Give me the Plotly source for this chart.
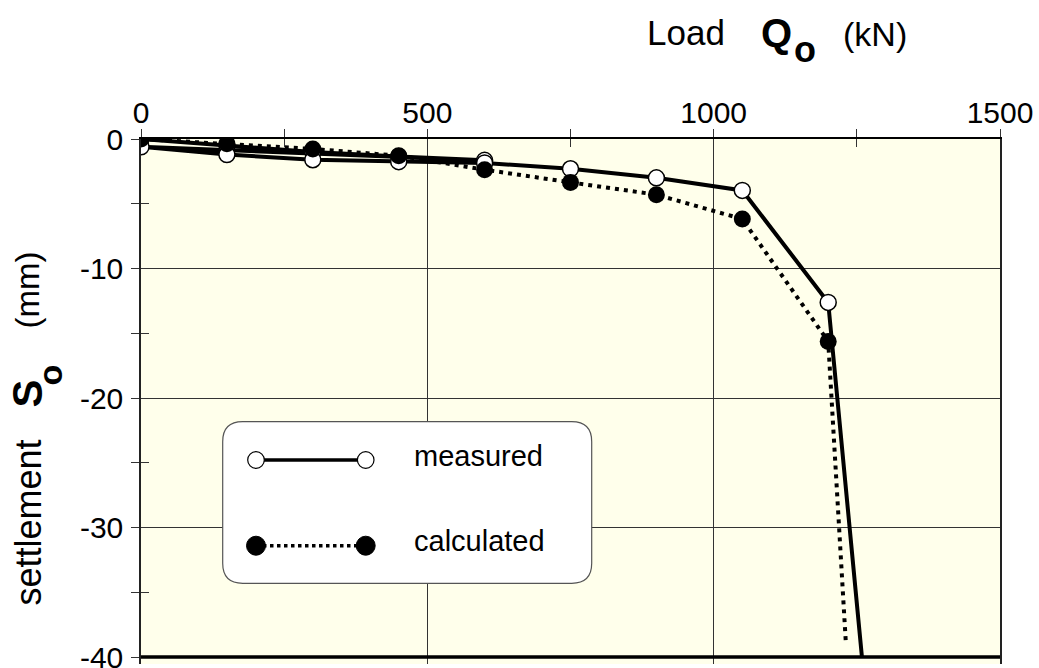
import plotly.graph_objects as go

# ---- data ----
meas_load = [0, 150, 300, 450, 600, 0, 150, 300, 450, 600, 750, 900, 1050, 1200, 1259]
meas_settle = [0, -0.5, -1.0, -1.35, -1.65, -0.6, -1.2, -1.6, -1.75, -1.85, -2.3, -3.0, -3.97, -12.62, -40.05]

calc_load = [0, 150, 300, 450, 600, 750, 900, 1050, 1200, 1231]
calc_settle = [0, -0.36, -0.77, -1.29, -2.37, -3.35, -4.3, -6.18, -15.63, -39.05]

x_ticks = [0, 500, 1000, 1500]
x_minor = [250, 750, 1250]
y_ticks = [0, -10, -20, -30, -40]
y_ticklabels = ["0", "-10", "-20", "-30", "-40"]
y_minor = [-5, -15, -25, -35]

series_names = ["measured", "calculated"]

# ---- layout geometry ----
W, H = 1039, 668
L, R, T, B = 141, 39, 139, 4
PW, PH = W - L - R, H - T - B
FONT = "Liberation Sans, Arial, sans-serif"


def px(x):
    return (x - L) / PW


def py(y):
    return (H - B - y) / PH


fig = go.Figure()

n_m = len(meas_load)
fig.add_trace(go.Scatter(
    x=meas_load, y=meas_settle, mode="lines+markers", name=series_names[0],
    line=dict(color="black", width=4),
    marker=dict(symbol="circle", color="white", opacity=1, size=[16] * (n_m - 1) + [0],
                line=dict(color="black", width=[1.5] * (n_m - 1) + [0])),
    showlegend=False, xaxis="x", yaxis="y", cliponaxis=True))

n_c = len(calc_load)
fig.add_trace(go.Scatter(
    x=calc_load, y=calc_settle, mode="lines+markers", name=series_names[1],
    line=dict(color="black", width=4, dash="4px,5px"),
    marker=dict(symbol="circle", color="black", opacity=1, size=[17] * (n_c - 1) + [0],
                line=dict(width=0)),
    showlegend=False, xaxis="x2", yaxis="y2"))

xr = [0, 1500]
yr = [-40.54, 0]
tickfont = dict(family=FONT, size=30, color="black")

fig.update_layout(
    width=W, height=H, autosize=False,
    margin=dict(l=L, r=R, t=T, b=B, autoexpand=False),
    paper_bgcolor="white", plot_bgcolor="#FFFFEB",
    xaxis=dict(range=xr, side="top", tickvals=x_ticks, ticks="outside", ticklen=8,
               tickcolor="#333", tickwidth=1, showline=True, linecolor="black", linewidth=1.5,
               showgrid=True, gridcolor="#333", gridwidth=1, zeroline=False, automargin=False,
               tickfont=tickfont, ticklabelstandoff=-6, ticklabeloverflow="allow",
               minor=dict(tickvals=x_minor, ticks="outside", ticklen=8, tickcolor="#333",
                          tickwidth=1, showgrid=False)),
    yaxis=dict(range=yr, tickvals=y_ticks, ticktext=y_ticklabels, ticks="outside", ticklen=8,
               tickcolor="#333", tickwidth=1, showline=True, mirror=True, linecolor="#222",
               linewidth=1.5, showgrid=True, gridcolor="#333", gridwidth=1, zeroline=False,
               automargin=False,
               tickfont=tickfont, ticklabelstandoff=2, ticklabeloverflow="allow",
               minor=dict(tickvals=y_minor, ticks="outside", ticklen=8, tickcolor="#333",
                          tickwidth=1, showgrid=False)),
    xaxis2=dict(range=xr, overlaying="x", side="top", anchor="y2", tickvals=x_minor,
                ticks="inside", ticklen=8, tickcolor="#333", tickwidth=1, automargin=False,
                showticklabels=False, showgrid=False, showline=False, zeroline=False),
    yaxis2=dict(range=yr, overlaying="y", side="left", anchor="x2", tickvals=y_minor,
                ticks="inside", ticklen=8, tickcolor="#333", tickwidth=1, automargin=False,
                showticklabels=False, showgrid=False, showline=False, zeroline=False),
)

shapes = []
# thick bottom line at -40
shapes.append(dict(type="line", xref="paper", x0=0, x1=1, yref="y", y0=-40, y1=-40,
                   line=dict(color="black", width=3.5), layer="above"))

# legend box (rounded rectangle)
bx0, bx1, by0, by1, rad = 222.7, 591.7, 421.7, 583.3, 20


def P(x, y):
    return f"{px(x):.5f},{py(y):.5f}"


path = (f"M {P(bx0 + rad, by0)} L {P(bx1 - rad, by0)} Q {P(bx1, by0)} {P(bx1, by0 + rad)} "
        f"L {P(bx1, by1 - rad)} Q {P(bx1, by1)} {P(bx1 - rad, by1)} "
        f"L {P(bx0 + rad, by1)} Q {P(bx0, by1)} {P(bx0, by1 - rad)} "
        f"L {P(bx0, by0 + rad)} Q {P(bx0, by0)} {P(bx0 + rad, by0)} Z")
shapes.append(dict(type="path", xref="paper", yref="paper", path=path,
                   fillcolor="white", line=dict(color="#555", width=1.2), layer="above"))

lx0, lx1 = 256, 365.7
row_m, row_c = 460, 545.7
shapes.append(dict(type="line", xref="paper", yref="paper", x0=px(lx0), x1=px(lx1),
                   y0=py(row_m), y1=py(row_m), line=dict(color="black", width=3.5), layer="above"))
shapes.append(dict(type="line", xref="paper", yref="paper", x0=px(lx0), x1=px(lx1),
                   y0=py(row_c), y1=py(row_c), line=dict(color="black", width=3.5, dash="dot"),
                   layer="above"))
for cx in (lx0, lx1):
    r = 8.3
    shapes.append(dict(type="circle", xref="paper", yref="paper",
                       x0=px(cx - r), x1=px(cx + r), y0=py(row_m + r), y1=py(row_m - r),
                       fillcolor="white", line=dict(color="black", width=1.2), layer="above"))
    r = 9.5
    shapes.append(dict(type="circle", xref="paper", yref="paper",
                       x0=px(cx - r), x1=px(cx + r), y0=py(row_c + r), y1=py(row_c - r),
                       fillcolor="black", line=dict(color="black", width=1), layer="above"))
fig.update_layout(shapes=shapes)

ann = []


def A(text, x, y, size, angle=0, xanchor="center"):
    ann.append(dict(text=text, x=px(x), y=py(y), xref="paper", yref="paper",
                    xanchor=xanchor, yanchor="middle", showarrow=False, textangle=angle,
                    font=dict(family=FONT, size=size, color="black")))


# legend labels
A(series_names[0], 411.7, 456, 29, xanchor="left")
A(series_names[1], 411.7, 541, 29, xanchor="left")

# top title: Load Q_o (kN)
A("Load", 685.5, 32.5, 35)
A("<b>Q</b>", 776, 33, 40)
A("<b>o</b>", 805, 49.5, 36)
A("(kN)", 875, 34, 34)

# left title: settlement S_o (mm)
A("settlement", 28, 522.5, 36, angle=-90)
A("<b>S</b>", 26.5, 394, 42, angle=-90)
A("<b>o</b>", 49.5, 375, 34, angle=-90)
A("(mm)", 27, 290.5, 33, angle=-90)

fig.update_layout(annotations=ann)

fig.write_html("out.html")
